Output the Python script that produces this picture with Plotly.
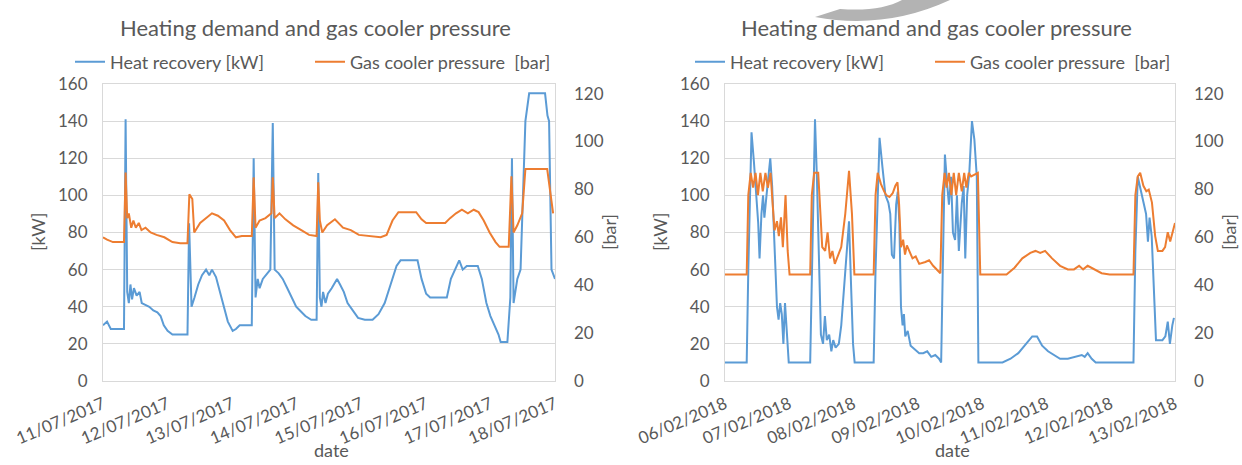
import pandas as pd
import plotly.graph_objects as go

# ---------------- data ----------------
# July 2017 week: hours since 11/07/2017 00:00
jul_start = "2017-07-11 00:00"
jul_heat_hours = [0, 1.5, 2.9, 7.8, 8.4, 9.0, 9.6, 10.2, 10.8, 11.5, 12.5, 13.6, 14.4, 15.8, 17.2,
                  18.7, 20.2, 21.4, 22.6, 24.0, 25.8, 30.2, 31.4, 32.0, 32.9, 34.0, 35.4, 36.8, 38.3,
                  39.5, 40.5, 42.0, 43.5, 45.0, 46.4, 48.2, 49.4, 50.8, 55.3, 56.0, 56.7, 57.5, 58.2,
                  59.4, 61.2, 62.2, 63.1, 63.8, 65.3, 66.8, 68.5, 70.3, 71.8, 73.2, 75.2, 77.4, 79.4,
                  80.0, 80.6, 81.2, 81.8, 82.7, 83.6, 85.0, 87.0, 88.1, 89.5, 90.9, 92.8, 94.8, 97.3,
                  100.2, 102.4, 104.7, 106.9, 109.1, 110.6, 116.9, 118.4, 120.1, 121.6, 127.8, 129.3,
                  130.7, 132.4, 133.7, 135.2, 139.3, 140.8, 142.5, 144.0, 145.5, 147.0, 147.8, 150.3,
                  151.4, 152.0, 152.6, 154.0, 155.2, 155.9, 157.0, 158.4, 164.3, 165.2, 165.8, 166.7,
                  168.0]
jul_heat_kw = [30, 32, 28, 28, 141, 48, 42, 52, 44, 50, 46, 48, 42, 41, 40,
               38, 37, 35, 30, 27, 25, 25, 25, 85, 40, 45, 52, 57, 60,
               57, 60, 56, 48, 40, 32, 27, 28, 30, 30, 120, 45, 55, 50,
               55, 58, 60, 139, 60, 58, 55, 50, 45, 40, 38, 35, 33, 33,
               112, 45, 40, 48, 42, 47, 50, 55, 52, 48, 42, 38, 34, 33,
               33, 36, 42, 52, 62, 65, 65, 55, 47, 45, 45, 55,
               60, 65, 60, 62, 62, 55, 42, 35, 30, 25, 21, 21,
               45, 120, 42, 55, 60, 95, 140, 155, 155, 143, 140, 60,
               55]
jul_press_hours = [0, 1.5, 3.7, 7.8, 8.4, 9.0, 9.6, 10.5, 11.3, 12.2, 13.3, 14.3, 15.8, 17.7, 19.9,
                   22.8, 25.8, 28.7, 31.4, 32.1, 33.2, 33.9, 36.1, 38.3, 40.5, 42.7, 45.0, 47.2, 49.4,
                   51.6, 55.3, 56.0, 56.7, 58.2, 60.4, 62.6, 63.1, 63.8, 65.6, 67.8, 70.7, 73.7, 76.6,
                   79.4, 80.0, 80.6, 81.5, 83.3, 86.2, 89.2, 92.1, 95.1, 98.7, 103.2, 105.4, 107.6,
                   109.8, 116.4, 118.4, 120.1, 127.2, 129.0, 131.2, 133.4, 135.6, 137.8, 139.6, 141.5,
                   143.7, 145.9, 147.4, 150.8, 151.8, 152.6, 154.0, 155.8, 157.0, 165.1, 167.3]
jul_press_bar = [60, 59, 58, 58, 87, 68, 70, 64, 67, 64, 66, 63, 64, 62, 61,
                 60, 58, 57.5, 57.5, 78, 76, 62, 66, 68, 70, 69, 67, 63, 60,
                 60.5, 60.5, 85, 64, 67, 68, 70, 85, 68, 70, 67.5, 65, 63, 61,
                 60.5, 83, 67, 62, 65, 67.5, 64, 63, 61, 60.5, 60, 61, 67,
                 70.5, 70.5, 67.5, 66, 66, 68, 70, 71.5, 70, 71.5, 70.5, 67,
                 62, 58, 56, 56, 85.5, 62, 65, 70, 88.5, 88.5, 70]

# February 2018 week: hours since 06/02/2018 00:00
feb_start = "2018-02-06 00:00"
feb_heat_hours = [0, 8.1, 8.7, 9.9, 10.8, 11.8, 12.4, 12.9, 13.6, 14.2, 14.7, 15.5, 16.9, 17.6, 18.2,
                  18.8, 19.4, 20.0, 20.6, 21.2, 21.8, 22.4, 22.9, 23.8, 31.8, 32.4, 33.6, 34.3, 35.1,
                  35.8, 36.6, 37.3, 38.0, 38.9, 39.7, 40.4, 41.3, 42.5, 43.4, 44.4, 45.4, 46.3, 47.1,
                  47.8, 48.4, 55.5, 56.2, 57.7, 58.8, 59.9, 61.0, 61.7, 62.3, 63.1, 63.9, 64.5, 65.1,
                  65.7, 66.3, 66.8, 67.3, 68.2, 69.3, 71.0, 72.5, 74.0, 75.5, 77.0, 78.5, 79.9, 80.7,
                  81.3, 82.1, 83.0, 83.6, 84.4, 85.1, 85.9, 86.6, 87.3, 88.4, 89.1, 89.7, 90.4, 91.2,
                  92.2, 93.1, 94.0, 94.6, 103.6, 106.6, 109.5, 112.5, 114.7, 116.5, 118.4, 120.6,
                  122.9, 125.1, 128.0, 131.0, 133.2, 134.3, 135.4, 136.9, 138.4, 152.5, 153.2, 154.1,
                  155.0, 156.2, 157.2, 157.9, 158.5, 159.3, 160.0, 160.9, 163.3, 164.4, 165.3, 166.1,
                  167.0, 167.6]
feb_heat_kw = [10, 10, 60, 134, 118, 100, 85, 66, 90, 100, 88, 100, 120, 105, 85,
               60, 40, 33, 42, 36, 20, 42, 30, 10, 10, 60, 141, 110, 55,
               25, 20, 35, 22, 25, 16, 22, 18, 20, 30, 50, 68, 86, 50,
               20, 10, 10, 60, 131, 115, 100, 96, 90, 68, 66, 95, 102, 85,
               40, 30, 36, 24, 27, 19, 17, 15, 15, 16, 13, 14, 12, 10,
               60, 122, 105, 95, 110, 80, 76, 100, 70, 96, 105, 66, 100, 112,
               140, 130, 110, 10, 10, 12, 15, 20, 24, 24, 19, 16,
               14, 12, 12, 13, 14, 13, 15, 12, 10, 10, 70, 110,
               104, 97, 90, 75, 88, 78, 50, 22, 22, 24, 32, 20,
               30, 34]
feb_press_hours = [0, 8.1, 8.7, 9.6, 10.5, 11.4, 12.3, 13.2, 14.1, 15.1, 16.0, 17.0, 17.8, 18.5, 19.4,
                   20.1, 20.9, 21.6, 22.6, 23.4, 24.1, 31.8, 32.4, 33.3, 34.8, 35.5, 36.3, 37.4, 38.3,
                   39.2, 40.1, 41.0, 42.2, 43.4, 44.9, 46.3, 47.4, 48.3, 55.5, 56.2, 57.0, 58.2, 59.4,
                   60.2, 61.4, 62.6, 63.6, 64.4, 65.0, 65.7, 66.5, 67.2, 67.9, 68.8, 70.0, 71.2, 72.5,
                   74.8, 76.2, 77.7, 79.2, 80.4, 81.1, 82.0, 82.7, 83.6, 84.5, 85.4, 86.3, 87.3, 88.4,
                   89.3, 90.1, 91.0, 91.9, 94.4, 95.3, 105.1, 108.1, 111.0, 114.0, 115.9, 117.7, 119.5,
                   122.1, 125.1, 128.0, 130.3, 132.2, 133.7, 135.4, 137.7, 140.6, 143.6, 152.5, 153.2,
                   154.1, 155.0, 156.2, 157.3, 158.2, 159.4, 160.6, 161.6, 163.3, 164.3, 165.3, 166.2,
                   167.4, 168.0]
feb_press_bar = [44.5, 44.5, 77.6, 86.9, 80.7, 86.9, 77.6, 86.9, 79.2, 86.9, 80.7, 86.9, 73.7, 62.9, 66.7,
                 60.5, 68.3, 55.9, 77.6, 54.3, 44.5, 44.5, 77.6, 86.9, 86.9, 69.8, 55.9, 54.3, 62.1,
                 51.2, 54.3, 48.9, 52.8, 55.9, 69.8, 87.7, 69.8, 44.5, 44.5, 77.6, 86.9, 82.3, 79.2,
                 77.6, 76.8, 78.4, 81.5, 83.0, 73.7, 55.9, 59.0, 52.8, 56.6, 54.3, 51.2, 52.0, 48.9,
                 49.7, 50.4, 48.1, 46.6, 45.0, 77.6, 86.9, 80.7, 86.9, 77.6, 86.9, 77.6, 86.9, 79.2,
                 86.9, 80.7, 86.9, 85.4, 86.9, 44.5, 44.5, 47.3, 51.2, 53.5, 54.3, 53.5, 54.3,
                 51.2, 48.1, 46.6, 46.6, 48.1, 46.6, 48.1, 46.6, 45.0, 44.5, 44.5, 77.6,
                 85.4, 86.9, 81.5, 79.2, 79.9, 74.5, 60.5, 54.3, 54.3, 55.9, 62.1, 58.2,
                 63.6, 66.0]

TITLE = "Heating demand and gas cooler pressure"
HEAT_NAME = "Heat recovery [kW]"
PRESS_NAME = "Gas cooler pressure  [bar]"
DATE_FMT = "%d/%m/%Y"

# ---------------- style ----------------
W, H = 1242, 465
FONT = "Lato"
TXT = "#595959"
BLUE = "#5B9BD5"
ORANGE = "#ED7D31"
GRID = "#D9D9D9"


def times(start, hours):
    return pd.Timestamp(start) + pd.to_timedelta(hours, unit="h")


def px_x(v):
    return v / W


def px_y(v):
    return 1 - v / H


def label(text, x, y, size, angle=0):
    fig.add_annotation(text=text, x=px_x(x), y=px_y(y), xref="paper", yref="paper",
                       xanchor="center", yanchor="middle", showarrow=False, textangle=angle,
                       font=dict(family=FONT, size=size, color=TXT))


fig = go.Figure()

panels = [
    dict(start=jul_start, hh=jul_heat_hours, hv=jul_heat_kw, ph=jul_press_hours, pv=jul_press_bar,
         xa="x", ya="y", ya2="y2", legend="legend", dom=(103, 555)),
    dict(start=feb_start, hh=feb_heat_hours, hv=feb_heat_kw, ph=feb_press_hours, pv=feb_press_bar,
         xa="x2", ya="y3", ya2="y4", legend="legend2", dom=(725, 1175)),
]

plot_top, plot_bottom = 84, 381
ydom = [px_y(plot_bottom), px_y(plot_top)]
tickfont = dict(family=FONT, size=17, color=TXT)

for i, p in enumerate(panels):
    fig.add_trace(go.Scatter(x=times(p["start"], p["hh"]), y=p["hv"], mode="lines",
                             name=HEAT_NAME, line=dict(color=BLUE, width=2),
                             xaxis=p["xa"], yaxis=p["ya"], legend=p["legend"]))
    fig.add_trace(go.Scatter(x=times(p["start"], p["ph"]), y=p["pv"], mode="lines",
                             name=PRESS_NAME, line=dict(color=ORANGE, width=2),
                             xaxis=p["xa"], yaxis=p["ya2"], legend=p["legend"]))

    sfx = "" if i == 0 else "2"
    ysfx1 = "" if i == 0 else "3"
    ysfx2 = "2" if i == 0 else "4"
    start = pd.Timestamp(p["start"])
    end = start + pd.Timedelta(days=7)
    x0, x1 = p["dom"]

    fig.update_layout(**{
        f"xaxis{sfx}": dict(domain=[px_x(x0), px_x(x1)], anchor=p["ya"], type="date",
                           range=[start, end], tick0=start, dtick=86400000,
                           tickformat=DATE_FMT, tickangle=-23, tickfont=tickfont,
                           showgrid=False, showline=True, linecolor=GRID, linewidth=1,
                           mirror=True, ticks="", ticklabelstandoff=6, zeroline=False,
                           automargin=False),
        f"yaxis{ysfx1}": dict(domain=ydom, anchor=p["xa"], range=[0, 160], dtick=20,
                             tickfont=tickfont, gridcolor=GRID, gridwidth=1, showline=True,
                             linecolor=GRID, mirror=True, ticks="", ticklabelstandoff=11,
                             zeroline=False, automargin=False),
        f"yaxis{ysfx2}": dict(overlaying=p["ya"], anchor=p["xa"], side="right", range=[0, 124],
                             dtick=20, tickfont=tickfont, showgrid=False, showline=False,
                             ticks="", ticklabelstandoff=18, zeroline=False, automargin=False),
    })

    # chart title and axis titles
    label(TITLE, (x0 + x1) / 2 - 14, 27, 22)
    label("[kW]", x0 - 65, 232, 18, -90)
    label("[bar]", x1 + 54, 232, 18, -90)
    label("date", (x0 + x1) / 2 + 2, 450, 18)

legend_style = dict(orientation="h", xanchor="left", yanchor="middle", y=px_y(62),
                    font=dict(family=FONT, size=18, color=TXT), bgcolor="rgba(0,0,0,0)",
                    entrywidth=195, entrywidthmode="pixels", itemclick=False,
                    tracegroupgap=0)
fig.update_layout(
    legend=dict(x=px_x(70), **legend_style),
    legend2=dict(x=px_x(690), **legend_style),
)

# faint grey arc printed across the top of the second panel
arc = "M {a},{b} Q {c},{d} {e},{f} L {g},{h} Q {i},{j} {k},{l} Z".format(
    a=px_x(815), b=px_y(17), c=px_x(885), d=px_y(30), e=px_x(950), f=px_y(0),
    g=px_x(902), h=px_y(0), i=px_x(880), j=px_y(12), k=px_x(840), l=px_y(9))
fig.add_shape(type="path", path=arc, xref="paper", yref="paper",
              fillcolor="#B3B3B3", line=dict(width=0), layer="above")

fig.update_layout(width=W, height=H, margin=dict(l=0, r=0, t=0, b=0), template="none",
                  paper_bgcolor="white", plot_bgcolor="white", showlegend=True)

fig.write_html("out.html")
